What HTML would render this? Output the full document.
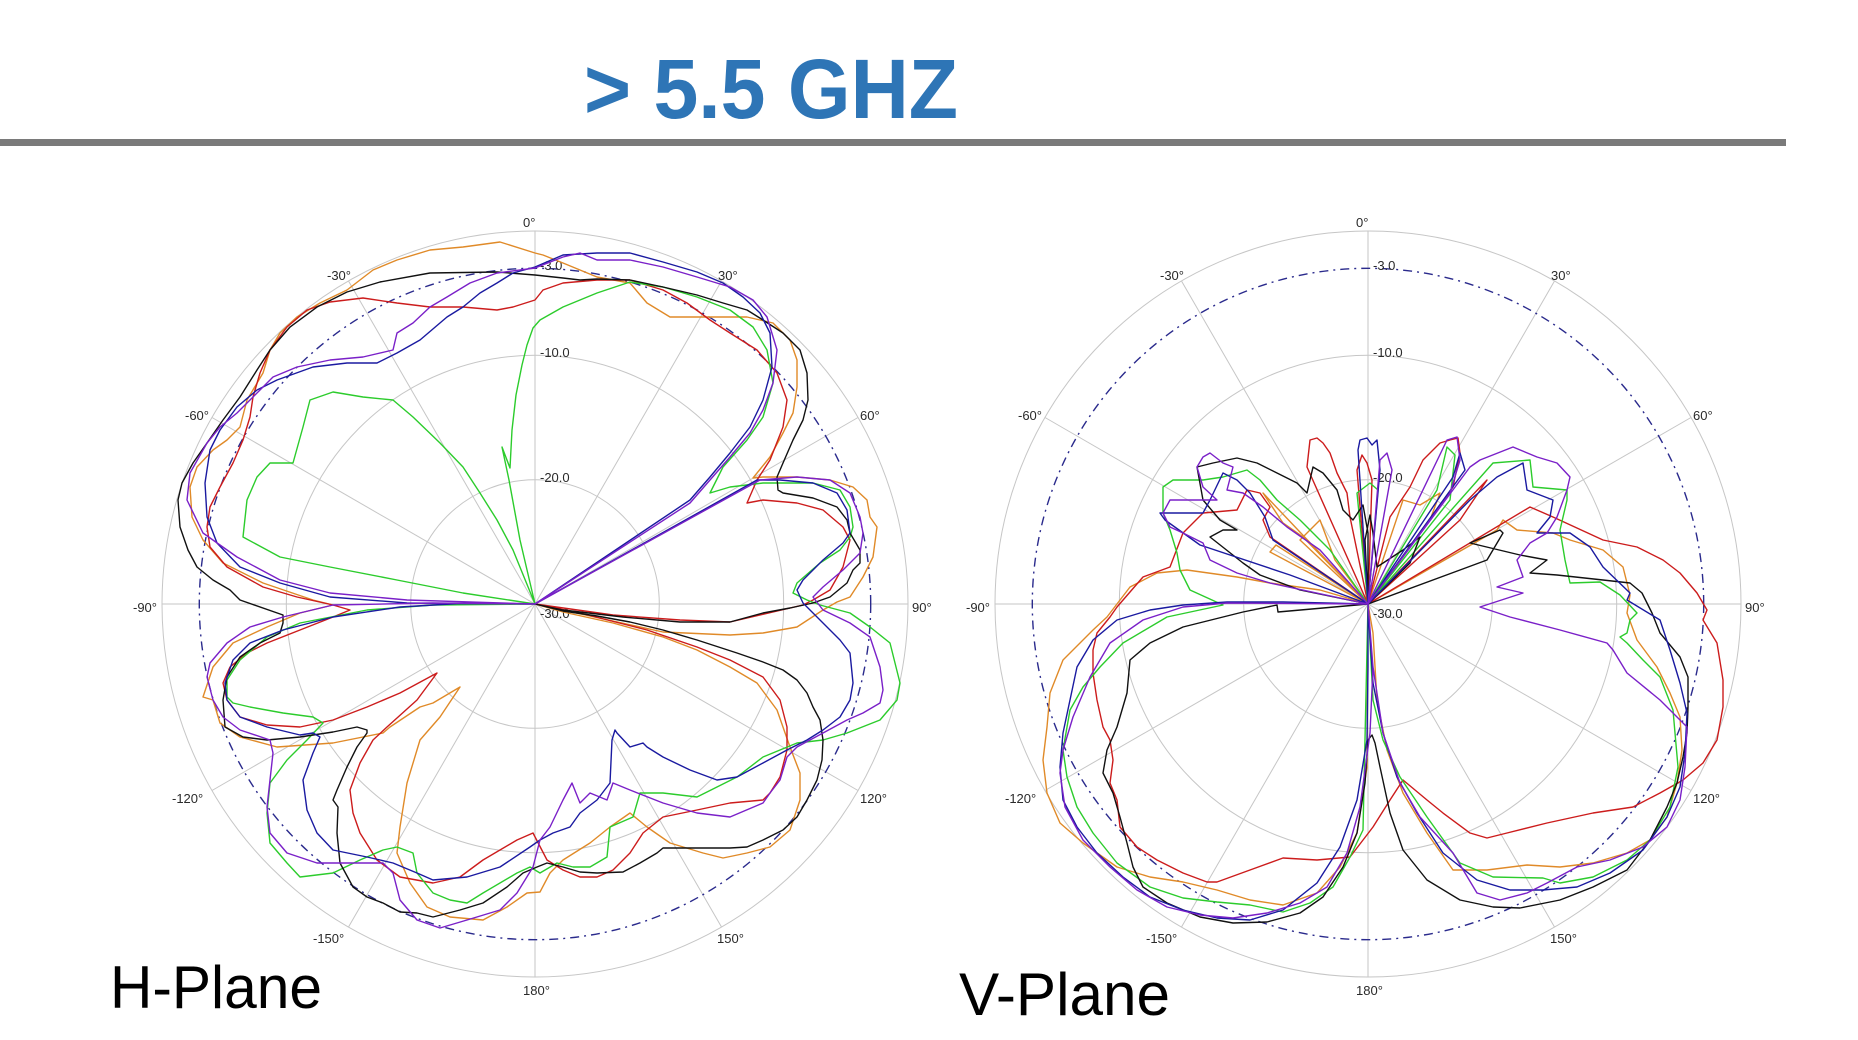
<!DOCTYPE html>
<html><head><meta charset="utf-8"><style>
html,body{margin:0;padding:0;background:#fff;}
svg{display:block;}
text{font-family:"Liberation Sans",Arial,sans-serif;}
.g{stroke:#c6c6c6;stroke-width:1;fill:none;}
.d{stroke:#2a2a8c;stroke-width:1.4;fill:none;stroke-dasharray:9 5 2 5;}
.l{font-size:13px;fill:#2a2a2a;}
path.c{fill:none;stroke-width:1.4;stroke-linejoin:round;}
.k{stroke:#111;} .r{stroke:#cc1c1c;} .o{stroke:#e08a28;} .gr{stroke:#2ccc2c;} .b{stroke:#1a1aa0;} .p{stroke:#7a20c8;}
</style></head><body>
<svg width="1858" height="1040" viewBox="0 0 1858 1040" xmlns="http://www.w3.org/2000/svg">
<rect width="1858" height="1040" fill="#fff"/>
<text x="584" y="118" font-size="84" font-weight="bold" fill="#2E75B6" textLength="374" lengthAdjust="spacingAndGlyphs">&gt; 5.5 GHZ</text>
<rect x="0" y="139" width="1786" height="7" fill="#7a7a7a"/>

<!-- H-plane grid -->
<g transform="translate(535,604)">
<circle class="g" r="124.3"/><circle class="g" r="248.7"/><circle class="g" r="373"/>
<line class="g" x1="0" y1="-373" x2="0" y2="373"/>
<line class="g" x1="186.5" y1="-323" x2="-186.5" y2="323"/>
<line class="g" x1="323" y1="-186.5" x2="-323" y2="186.5"/>
<line class="g" x1="373" y1="0" x2="-373" y2="0"/>
<line class="g" x1="323" y1="186.5" x2="-323" y2="-186.5"/>
<line class="g" x1="186.5" y1="323" x2="-186.5" y2="-323"/>
<circle class="d" r="335.7"/>
<text class="l" x="-12" y="-377">0°</text>
<text class="l" x="183" y="-324">30°</text>
<text class="l" x="325" y="-184">60°</text>
<text class="l" x="377" y="8">90°</text>
<text class="l" x="325" y="199">120°</text>
<text class="l" x="182" y="339">150°</text>
<text class="l" x="-12" y="391">180°</text>
<text class="l" x="-222" y="339">-150°</text>
<text class="l" x="-363" y="199">-120°</text>
<text class="l" x="-402" y="8">-90°</text>
<text class="l" x="-350" y="-184">-60°</text>
<text class="l" x="-208" y="-324">-30°</text>
<text class="l" x="5" y="-334">-3.0</text>
<text class="l" x="5" y="-247">-10.0</text>
<text class="l" x="5" y="-122">-20.0</text>
<text class="l" x="5" y="14">-30.0</text>
</g>

<!-- V-plane grid -->
<g transform="translate(1368,604)">
<circle class="g" r="124.3"/><circle class="g" r="248.7"/><circle class="g" r="373"/>
<line class="g" x1="0" y1="-373" x2="0" y2="373"/>
<line class="g" x1="186.5" y1="-323" x2="-186.5" y2="323"/>
<line class="g" x1="323" y1="-186.5" x2="-323" y2="186.5"/>
<line class="g" x1="373" y1="0" x2="-373" y2="0"/>
<line class="g" x1="323" y1="186.5" x2="-323" y2="-186.5"/>
<line class="g" x1="186.5" y1="323" x2="-186.5" y2="-323"/>
<circle class="d" r="335.7"/>
<text class="l" x="-12" y="-377">0°</text>
<text class="l" x="183" y="-324">30°</text>
<text class="l" x="325" y="-184">60°</text>
<text class="l" x="377" y="8">90°</text>
<text class="l" x="325" y="199">120°</text>
<text class="l" x="182" y="339">150°</text>
<text class="l" x="-12" y="391">180°</text>
<text class="l" x="-222" y="339">-150°</text>
<text class="l" x="-363" y="199">-120°</text>
<text class="l" x="-402" y="8">-90°</text>
<text class="l" x="-350" y="-184">-60°</text>
<text class="l" x="-208" y="-324">-30°</text>
<text class="l" x="5" y="-334">-3.0</text>
<text class="l" x="5" y="-247">-10.0</text>
<text class="l" x="5" y="-122">-20.0</text>
<text class="l" x="5" y="14">-30.0</text>
</g>

<!-- H-plane curves -->
<path class="c o" d="M535,253 L543,255 L563,263 L597,277 L630,283 L647,303 L670,317 L713,317 L747,317 L773,323 L790,340 L797,360 L797,387 L793,413 L783,433 L770,457 L753,478 L763,477 L797,477 L830,480 L853,487 L867,500 L870,517 L877,527 L873,557 L863,577 L850,597 L837,602 L823,610 L797,627 L763,633 L730,635 L663,632 L535,604 L563,612 L613,623 L663,637 L697,650 L730,667 L757,683 L777,710 L790,747 L800,773 L800,800 L790,830 L770,847 L747,853 L723,858 L703,853 L670,843 L647,827 L630,813 L610,827 L590,843 L563,860 L550,873 L540,892 L527,893 L507,907 L483,920 L450,917 L427,907 L410,883 L397,853 L400,827 L407,783 L420,740 L440,717 L460,687 L433,703 L420,707 L390,727 L383,733 L333,743 L277,747 L240,737 L220,723 L213,700 L203,697 L213,667 L233,643 L267,627 L300,613 L333,605 L313,600 L263,583 L223,563 L203,540 L192,517 L190,487 L197,467 L213,450 L227,440 L240,427 L247,400 L263,373 L270,350 L280,333 L297,317 L320,303 L347,290 L373,270 L397,260 L430,250 L463,247 L500,242 Z"/>
<path class="c r" d="M535,300 L543,290 L563,283 L597,280 L630,280 L663,290 L687,303 L710,320 L730,333 L757,350 L777,373 L787,400 L783,427 L770,460 L757,480 L747,503 L763,500 L797,503 L823,510 L843,527 L850,540 L843,567 L830,590 L813,600 L803,605 L730,622 L680,620 L613,615 L535,604 L580,613 L647,630 L697,647 L730,660 L763,677 L780,700 L787,727 L787,750 L780,777 L770,793 L763,800 L730,803 L697,810 L663,817 L643,833 L630,853 L613,870 L597,877 L580,877 L563,870 L547,860 L533,833 L517,840 L483,860 L460,877 L433,883 L400,877 L377,860 L360,833 L353,813 L350,790 L360,763 L373,740 L387,727 L417,700 L437,673 L400,693 L367,707 L333,720 L300,727 L267,725 L240,717 L227,700 L223,683 L230,667 L247,653 L267,643 L300,630 L333,617 L350,610 L333,605 L297,597 L263,587 L227,567 L210,547 L207,527 L210,507 L220,487 L233,463 L243,440 L250,417 L253,397 L260,373 L270,350 L287,327 L307,310 L330,302 L363,298 L397,303 L430,307 L463,307 L497,310 L513,307 Z"/>
<path class="c gr" d="M535,604 L520,540 L509,480 L502,447 L510,468 L512,430 L516,395 L522,365 L527,345 L533,328 L540,320 L563,307 L597,293 L630,282 L663,287 L697,297 L730,310 L753,327 L767,350 L773,383 L763,417 L747,440 L723,467 L710,493 L730,487 L763,483 L813,483 L840,490 L850,507 L853,527 L850,537 L840,550 L820,563 L797,583 L793,593 L807,600 L820,605 L850,613 L870,627 L890,643 L900,683 L897,700 L880,720 L847,733 L823,740 L797,743 L763,757 L737,777 L697,797 L663,793 L640,793 L633,817 L610,827 L607,857 L590,867 L573,867 L557,863 L540,873 L530,867 L517,873 L483,893 L467,903 L450,900 L433,893 L417,873 L413,853 L397,847 L383,850 L360,860 L333,873 L300,877 L287,863 L270,843 L267,813 L270,783 L287,760 L307,740 L323,723 L313,717 L283,713 L250,707 L233,703 L227,697 L227,680 L240,660 L267,637 L300,623 L367,610 L433,605 L535,604 L463,593 L397,580 L330,567 L280,557 L243,537 L247,500 L257,477 L270,463 L293,463 L303,427 L310,400 L333,392 L363,397 L393,400 L413,417 L440,443 L463,467 L480,493 L497,520 L513,550 L535,604"/>
<path class="c k" d="M535,275 L563,278 L580,280 L597,279 L630,280 L663,287 L697,295 L723,303 L747,310 L763,320 L783,333 L800,350 L807,373 L808,400 L803,420 L793,440 L783,463 L777,477 L778,490 L783,493 L813,498 L837,507 L847,520 L850,533 L860,550 L860,563 L853,570 L847,583 L830,597 L813,603 L790,608 L763,613 L730,622 L680,622 L623,617 L563,610 L535,604 L563,611 L597,616 L630,622 L663,630 L697,640 L737,653 L763,662 L783,670 L797,680 L807,693 L813,707 L820,720 L823,740 L822,760 L817,780 L807,800 L797,817 L783,830 L763,840 L747,847 L730,848 L697,848 L663,848 L657,853 L640,863 L623,872 L597,873 L580,872 L563,867 L547,863 L537,867 L523,873 L507,887 L483,903 L460,910 L433,917 L417,913 L400,912 L383,903 L367,897 L353,887 L340,863 L337,833 L338,807 L333,800 L337,790 L347,767 L357,747 L367,733 L367,730 L357,727 L333,732 L300,737 L267,740 L243,737 L225,727 L223,700 L227,677 L240,657 L260,643 L280,633 L283,623 L283,615 L240,600 L230,590 L213,580 L197,567 L188,550 L180,527 L178,500 L182,483 L193,463 L207,443 L223,420 L240,397 L257,370 L270,350 L290,327 L317,307 L347,292 L380,282 L430,273 L497,272 Z"/>
<path class="c b" d="M535,267 L563,255 L597,253 L630,253 L663,262 L697,272 L723,283 L743,297 L760,313 L770,333 L772,367 L763,400 L750,427 L730,453 L710,477 L690,500 L535,604 L757,480 L780,480 L813,483 L837,493 L847,510 L850,533 L843,543 L823,560 L803,580 L797,590 L803,603 L820,620 L840,640 L850,653 L853,683 L850,700 L840,717 L823,730 L807,740 L787,750 L763,763 L737,777 L717,780 L690,770 L663,757 L647,747 L643,743 L630,747 L617,733 L615,730 L612,740 L610,783 L597,800 L580,813 L570,827 L553,833 L540,840 L530,847 L500,867 L467,877 L433,880 L417,873 L393,863 L367,857 L333,850 L317,833 L307,810 L303,780 L313,753 L320,737 L313,733 L300,735 L267,727 L240,717 L227,700 L225,683 L233,660 L250,643 L283,630 L333,617 L400,607 L467,603 L535,604 L407,603 L330,597 L280,583 L240,567 L217,543 L207,517 L205,483 L210,450 L220,430 L237,407 L257,390 L277,380 L313,367 L347,363 L377,363 L397,353 L420,340 L447,317 L463,307 L480,293 L497,283 L513,273 Z"/>
<path class="c p" d="M535,268 L563,257 L580,253 L597,260 L630,260 L663,267 L697,277 L730,287 L753,300 L767,317 L777,350 L773,383 L763,410 L750,433 L730,457 L710,480 L690,503 L535,604 L760,480 L797,477 L830,480 L850,493 L860,517 L863,533 L860,553 L843,570 L823,587 L813,597 L823,610 L850,623 L870,637 L880,667 L883,690 L880,703 L863,713 L847,720 L823,733 L797,747 L787,757 L780,780 L770,793 L763,803 L730,817 L697,813 L663,803 L630,790 L613,783 L607,800 L590,793 L580,803 L572,783 L563,800 L550,827 L540,840 L533,867 L517,893 L500,910 L467,920 L440,928 L417,920 L400,900 L393,873 L383,863 L350,863 L317,863 L287,853 L270,833 L267,807 L270,780 L273,753 L270,740 L240,730 L223,717 L213,700 L207,677 L210,663 L227,643 L250,627 L283,617 L333,605 L433,603 L535,604 L407,600 L330,593 L280,580 L237,557 L203,533 L187,500 L190,473 L207,443 L220,427 L237,413 L257,393 L273,377 L297,367 L330,360 L363,357 L393,350 L397,333 L413,323 L430,307 L447,297 L470,283 L497,273 Z"/>

<!-- V-plane curves -->
<path class="c o" d="M1368,604 L1320,590 L1270,583 L1237,577 L1187,570 L1157,573 L1130,587 L1107,617 L1093,630 L1063,660 L1050,693 L1047,727 L1043,760 L1047,793 L1060,823 L1083,843 L1117,867 L1150,877 L1183,882 L1217,890 L1250,900 L1283,905 L1317,893 L1340,867 L1357,833 L1367,767 L1368,604 L1373,633 L1377,700 L1387,750 L1403,793 L1427,833 L1453,870 L1487,870 L1527,865 L1560,867 L1593,863 L1627,853 L1650,840 L1667,817 L1677,783 L1682,750 L1680,717 L1670,693 L1657,667 L1637,640 L1627,613 L1630,595 L1623,567 L1603,550 L1570,540 L1553,533 L1517,530 L1503,520 L1497,530 L1368,604 M1368,604 L1263,493 L1283,523 L1303,537 L1368,604 M1368,604 L1270,552 L1276,545 L1368,604 M1368,604 L1403,500 L1420,505 L1440,493 L1430,520 L1368,604 M1368,604 L1300,540 L1320,520 L1335,560 Z"/>
<path class="c r" d="M1368,604 L1270,537 L1263,520 L1270,507 L1260,493 L1247,490 L1237,510 L1203,513 L1183,533 L1170,567 L1143,577 L1117,607 L1110,617 L1097,633 L1093,650 L1093,673 L1097,700 L1103,727 L1110,740 L1113,760 L1110,783 L1117,800 L1120,827 L1137,847 L1157,860 L1183,873 L1207,882 L1217,882 L1250,870 L1283,858 L1317,860 L1350,857 L1373,827 L1390,800 L1403,780 L1427,800 L1443,813 L1470,833 L1487,838 L1507,833 L1547,823 L1593,813 L1633,807 L1660,793 L1683,780 L1703,763 L1717,740 L1723,707 L1723,680 L1717,643 L1703,620 L1707,610 L1697,593 L1680,573 L1663,560 L1637,547 L1603,540 L1553,517 L1530,507 L1368,604 M1368,604 L1307,467 L1310,440 L1317,438 L1323,443 L1330,453 L1337,473 L1347,493 L1350,517 L1368,604 M1368,604 L1357,470 L1362,455 L1367,463 L1372,480 L1368,604 M1368,604 L1390,517 L1410,487 L1423,460 L1440,443 L1450,440 L1458,438 L1460,453 L1453,487 L1368,604 M1368,604 L1487,480 L1460,520 L1368,604"/>
<path class="c gr" d="M1368,604 L1330,550 L1300,520 L1277,500 L1260,480 L1247,470 L1223,477 L1203,480 L1173,480 L1163,487 L1163,513 L1170,530 L1177,553 L1180,570 L1190,590 L1223,605 L1167,617 L1123,643 L1100,667 L1083,687 L1070,710 L1063,750 L1067,777 L1077,807 L1093,833 L1117,863 L1150,887 L1183,898 L1217,902 L1250,905 L1283,912 L1310,903 L1333,887 L1350,857 L1363,830 L1368,604 L1373,700 L1383,740 L1400,777 L1427,817 L1460,863 L1493,877 L1543,878 L1560,883 L1593,877 L1627,860 L1650,840 L1670,807 L1678,767 L1675,733 L1673,710 L1660,677 L1643,660 L1627,643 L1620,637 L1627,633 L1630,620 L1637,613 L1620,595 L1600,582 L1570,583 L1565,560 L1560,530 L1567,500 L1567,490 L1533,487 L1530,460 L1493,463 L1368,604 M1368,604 L1357,493 L1370,483 L1378,490 L1368,604 M1368,604 L1437,490 L1447,447 L1455,455 L1450,500 L1368,604"/>
<path class="c k" d="M1368,604 L1300,590 L1260,575 L1243,563 L1210,537 L1223,530 L1237,530 L1220,520 L1203,500 L1197,467 L1213,463 L1237,458 L1257,463 L1277,473 L1297,483 L1307,493 L1310,480 L1313,467 L1323,473 L1337,490 L1343,510 L1353,520 L1363,505 L1368,533 L1368,604 M1368,604 L1365,540 L1370,515 L1373,533 L1377,567 L1403,550 L1420,537 L1410,563 L1368,604 M1368,604 L1460,570 L1487,560 L1503,533 L1500,530 L1470,543 L1520,555 L1547,560 L1530,573 L1557,575 L1603,580 L1630,583 L1642,593 L1652,613 L1660,633 L1680,657 L1688,677 L1688,707 L1687,733 L1683,757 L1677,783 L1667,807 L1650,840 L1627,870 L1593,887 L1560,900 L1520,908 L1493,907 L1460,900 L1427,880 L1403,850 L1390,813 L1380,767 L1375,743 L1372,735 L1368,740 L1365,783 L1357,833 L1343,867 L1323,897 L1300,913 L1267,922 L1233,923 L1200,917 L1167,903 L1143,887 L1133,867 L1127,843 L1120,817 L1113,793 L1103,773 L1107,750 L1117,727 L1127,693 L1130,660 L1150,643 L1183,627 L1243,612 L1277,605 L1278,612 L1368,604"/>
<path class="c b" d="M1368,604 L1290,575 L1200,545 L1165,520 L1160,513 L1177,513 L1203,513 L1210,500 L1223,473 L1237,480 L1250,493 L1265,517 L1273,540 L1368,604 M1368,604 L1358,450 L1360,440 L1367,438 L1372,445 L1377,440 L1380,470 L1368,604 M1368,604 L1283,602 L1227,602 L1183,605 L1150,610 L1117,620 L1093,640 L1077,667 L1070,700 L1063,733 L1060,767 L1063,800 L1077,827 L1097,853 L1123,877 L1150,897 L1183,910 L1217,918 L1250,920 L1283,910 L1317,883 L1340,847 L1357,800 L1367,740 L1368,667 L1368,604 L1373,683 L1383,733 L1397,777 L1417,813 L1443,853 L1477,880 L1510,890 L1543,890 L1577,887 L1610,873 L1643,850 L1667,817 L1680,787 L1685,753 L1687,713 L1680,683 L1670,650 L1660,620 L1627,600 L1630,593 L1603,567 L1590,547 L1570,533 L1537,533 L1550,517 L1553,500 L1527,490 L1523,463 L1497,477 L1470,500 L1368,604 M1368,604 L1453,477 L1460,453 L1465,470 L1368,604"/>
<path class="c p" d="M1368,604 L1270,583 L1237,573 L1210,560 L1203,543 L1183,533 L1170,527 L1163,513 L1170,500 L1197,500 L1217,500 L1203,487 L1197,467 L1203,457 L1210,453 L1223,463 L1233,467 L1227,490 L1243,493 L1263,507 L1287,527 L1320,550 L1368,604 M1368,604 L1380,460 L1387,453 L1392,470 L1368,604 M1368,604 L1447,440 L1457,437 L1460,460 L1450,493 L1368,604 M1368,604 L1470,467 L1480,460 L1513,447 L1537,457 L1557,463 L1570,477 L1567,490 L1557,517 L1547,533 L1530,543 L1517,560 L1523,577 L1497,587 L1523,593 L1480,607 L1510,617 L1560,630 L1607,643 L1613,650 L1627,673 L1660,700 L1683,723 L1687,727 L1685,767 L1680,800 L1667,827 L1643,847 L1610,860 L1577,867 L1547,883 L1527,893 L1500,900 L1477,893 L1453,853 L1420,817 L1400,783 L1383,733 L1373,667 L1368,604 L1373,667 L1370,733 L1360,807 L1347,853 L1327,887 L1300,903 L1267,913 L1233,918 L1200,915 L1167,907 L1137,890 L1110,867 L1083,840 L1065,807 L1060,773 L1063,750 L1073,717 L1090,677 L1110,643 L1143,620 L1183,607 L1227,603 L1368,604"/>

<text x="110" y="1008" font-size="60" fill="#000" textLength="212" lengthAdjust="spacingAndGlyphs">H-Plane</text>
<text x="959" y="1015" font-size="60" fill="#000" textLength="211" lengthAdjust="spacingAndGlyphs">V-Plane</text>
</svg>
</body></html>
